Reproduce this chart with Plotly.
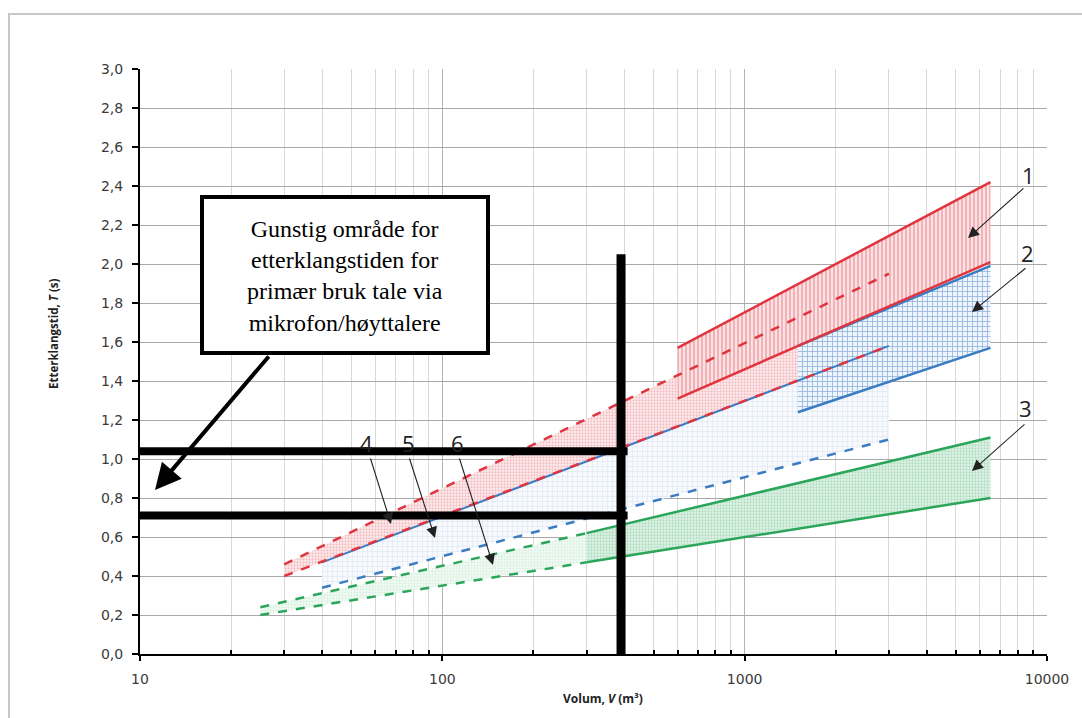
import plotly.graph_objects as go

# ---------------- data ----------------
red_upper_V = [600, 6500]
red_upper_T = [1.57, 2.42]
red_lower_V = [600, 6500]
red_lower_T = [1.31, 2.01]

red_dash_upper_V = [30, 3000]
red_dash_upper_T = [0.46, 1.95]
red_dash_lower_V = [30, 3000]
red_dash_lower_T = [0.40, 1.58]

blue_upper_V = [1500, 6500]
blue_upper_T = [1.58, 1.99]
blue_lower_V = [1500, 6500]
blue_lower_T = [1.24, 1.57]

blue_band_top_V = [40, 3000]
blue_band_top_T = [0.47, 1.58]
blue_dash_V = [40, 3000]
blue_dash_T = [0.34, 1.10]

green_upper_V = [25, 300, 6500]
green_upper_T = [0.24, 0.62, 1.11]
green_lower_V = [25, 300, 6500]
green_lower_T = [0.20, 0.47, 0.80]

hline_T = [1.04, 0.71]
hline_V = [10, 410]
vline_V = 390
vline_T = [0.0, 2.05]

y_tickvals = [0.0, 0.2, 0.4, 0.6, 0.8, 1.0, 1.2, 1.4, 1.6, 1.8, 2.0, 2.2, 2.4, 2.6, 2.8, 3.0]
y_ticktext = ["0,0", "0,2", "0,4", "0,6", "0,8", "1,0", "1,2", "1,4", "1,6", "1,8",
              "2,0", "2,2", "2,4", "2,6", "2,8", "3,0"]
x_major = [10, 100, 1000, 10000]
x_major_text = ["10", "100", "1000", "10000"]

box_text = "Gunstig område for<br>etterklangstiden for<br>primær bruk tale via<br>mikrofon/høyttalere"

# ---------------- colours ----------------
RED = "#e0353f"
BLUE = "#3a7cc2"
GREEN = "#2aa55a"

# ---------------- figure geometry ----------------
W, H = 1082, 718
L, R, T, B = 140, 35, 69, 64
PW, PH = W - L - R, H - T - B


def px(x):
    return (x - L) / PW


def py(y):
    return (H - B - y) / PH


fig = go.Figure()


def band(uV, uT, lV, lT, pattern):
    fig.add_trace(go.Scatter(
        x=list(uV) + list(lV)[::-1], y=list(uT) + list(lT)[::-1],
        mode="lines", fill="toself", line=dict(width=0, color="rgba(0,0,0,0)"),
        fillcolor="rgba(0,0,0,0)", fillpattern=pattern, hoverinfo="skip", showlegend=False))


def line(V, Tv, color, dash="solid", width=2.5):
    fig.add_trace(go.Scatter(x=V, y=Tv, mode="lines",
                             line=dict(color=color, width=width, dash=dash),
                             hoverinfo="skip", showlegend=False))


# region 6 (light green dots)
band(green_upper_V[:2], green_upper_T[:2], green_lower_V[:2], green_lower_T[:2],
     dict(shape=".", fgcolor="#bfe5cb", bgcolor="#f4fbf6", size=3, solidity=0.45))
# region 5 (light blue grid)
band(blue_band_top_V, blue_band_top_T, blue_dash_V, blue_dash_T,
     dict(shape="+", fgcolor="#b9cde9", bgcolor="#f7f9fd", size=5, solidity=0.2))
# region 4 (red dots)
band(red_dash_upper_V, red_dash_upper_T, red_dash_lower_V, red_dash_lower_T,
     dict(shape=".", fgcolor="#ec8a92", bgcolor="#fdf0f1", size=3, solidity=0.45))
# region 3 (green crosshatch)
band(green_upper_V[1:], green_upper_T[1:], green_lower_V[1:], green_lower_T[1:],
     dict(shape=".", fgcolor="#7cc697", bgcolor="#e3f4e8", size=3, solidity=0.45))
# region 2 (blue grid)
band(blue_upper_V, blue_upper_T, blue_lower_V, blue_lower_T,
     dict(shape="+", fgcolor="#3574bb", bgcolor="#eef4fb", size=5, solidity=0.3))
# region 1 (red vertical hatch)
band(red_upper_V, red_upper_T, red_lower_V, red_lower_T,
     dict(shape="|", fgcolor="#e2545e", bgcolor="#fbe3e5", size=4, solidity=0.35))

# boundary lines
line(blue_band_top_V, blue_band_top_T, BLUE, "solid", 2)
line(red_dash_lower_V, red_dash_lower_T, RED, "dash", 2.5)
line(red_dash_upper_V, red_dash_upper_T, RED, "dash", 2.5)
line(blue_dash_V, blue_dash_T, BLUE, "dash", 2.5)
line(green_upper_V[:2], green_upper_T[:2], GREEN, "dash", 2.5)
line(green_lower_V[:2], green_lower_T[:2], GREEN, "dash", 2.5)
line(green_upper_V[1:], green_upper_T[1:], GREEN, "solid", 2.5)
line(green_lower_V[1:], green_lower_T[1:], GREEN, "solid", 2.5)
line(blue_lower_V, blue_lower_T, BLUE, "solid", 2.5)
line(blue_upper_V, blue_upper_T, BLUE, "solid", 2.5)
line(red_lower_V, red_lower_T, RED, "solid", 2.5)
line(red_upper_V, red_upper_T, RED, "solid", 2.5)

# thick black marker lines
for tv in hline_T:
    line(hline_V, [tv, tv], "#000000", "solid", 8)
line([vline_V, vline_V], vline_T, "#000000", "solid", 9)

# ---------------- axes ----------------
x_minor = [m * 10 ** e for e in (1, 2, 3) for m in range(2, 10)]

fig.update_xaxes(type="log", range=[1, 4], tickmode="array", tickvals=x_major, ticktext=x_major_text,
                 showgrid=True, gridcolor="#b4b4b4", gridwidth=1,
                 showline=True, linecolor="#000000", linewidth=2,
                 ticks="outside", ticklen=5, tickcolor="#000000", tickwidth=2,
                 ticklabelstandoff=6,
                 minor=dict(tickmode="array", tickvals=x_minor, showgrid=True, gridcolor="#d8d8d8",
                            gridwidth=1, ticks="inside", ticklen=4, tickcolor="#000000", tickwidth=1.5),
                 tickfont=dict(family="DejaVu Sans", size=14, color="#3a3a3a"),
                 zeroline=False)
fig.update_yaxes(range=[0, 3], tickmode="array", tickvals=y_tickvals, ticktext=y_ticktext,
                 showgrid=True, gridcolor="#a8a8a8", gridwidth=1.2,
                 showline=True, linecolor="#000000", linewidth=2,
                 ticks="outside", ticklen=6, tickcolor="#000000", tickwidth=1.5,
                 ticklabelstandoff=6,
                 tickfont=dict(family="DejaVu Sans", size=14, color="#3a3a3a"),
                 zeroline=False)

shapes = [
    # outer chart border
    dict(type="rect", xref="paper", yref="paper", x0=px(9), x1=px(1095), y0=py(735), y1=py(14),
         line=dict(color="#c8c8c8", width=2), fillcolor="rgba(0,0,0,0)", layer="below"),
    # text box
    dict(type="rect", xref="paper", yref="paper", x0=px(202), x1=px(488), y0=py(353), y1=py(197),
         line=dict(color="#000000", width=4), fillcolor="#ffffff", layer="above"),
]

ann = []
ann.append(dict(xref="paper", yref="paper", x=px(345), y=py(276), xanchor="center", yanchor="middle",
                text=box_text, showarrow=False,
                font=dict(family="Liberation Serif", size=24, color="#000000"), align="center"))
ann.append(dict(xref="paper", yref="paper", x=px(155), y=py(490), ax=115, ay=-135, text="",
                showarrow=True, arrowhead=2, arrowsize=1.3, arrowwidth=4, arrowcolor="#000000",
                standoff=0, startstandoff=0))

num_font = dict(family="Open Sans", size=22, color="#222222")
labels = [("1", 1028, 175, 1025, 187, 968, 238),
          ("2", 1027, 253, 1027, 267, 972, 312),
          ("3", 1025, 408, 1026, 423, 972, 471),
          ("4", 366, 443, 370, 457, 391, 524),
          ("5", 408, 443, 409, 457, 435, 538),
          ("6", 457, 443, 459, 457, 493, 565)]
for t, tx, ty, sx, sy, hx, hy in labels:
    ann.append(dict(xref="paper", yref="paper", x=px(tx), y=py(ty), xanchor="center",
                    yanchor="middle", text=t, showarrow=False, font=num_font))
    ann.append(dict(xref="paper", yref="paper", x=px(hx), y=py(hy), ax=sx - hx, ay=sy - hy,
                    text="", showarrow=True, arrowhead=2, arrowsize=2, arrowwidth=1.1,
                    arrowcolor="#222222", standoff=0, startstandoff=0))

# axis titles
ann.append(dict(xref="paper", yref="paper", x=px(54), y=py(334), xanchor="center", yanchor="middle",
                textangle=-90, showarrow=False,
                text="<b>Etterklangstid, <i>T</i> (s)</b>",
                font=dict(family="Open Sans", size=11.5, color="#222222")))
ann.append(dict(xref="paper", yref="paper", x=px(603), y=py(698), xanchor="center", yanchor="middle",
                showarrow=False,
                text="<b>Volum, <i>V</i> (m³)</b>",
                font=dict(family="Open Sans", size=12, color="#222222")))

fig.update_layout(width=W, height=H, margin=dict(l=L, r=R, t=T, b=B, autoexpand=False),
                  paper_bgcolor="#ffffff", plot_bgcolor="#ffffff", showlegend=False,
                  shapes=shapes, annotations=ann)

fig.write_html("out.html", config={"displayModeBar": False},
               post_script="document.body.style.margin='0px';document.body.style.overflow='hidden';")
